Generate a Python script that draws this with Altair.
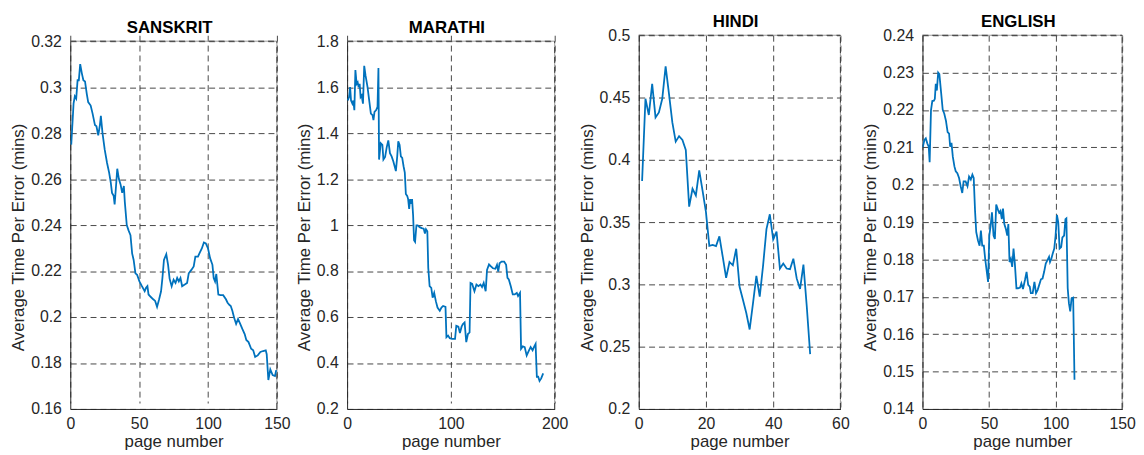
import altair as alt
import pandas as pd

# ---------------- data ----------------
sk_page = [0.7, 2.4, 3.3, 4.3, 5.3, 6.2, 7.2, 8.4, 9.5, 10.7,
           12, 13, 14.8, 16.2, 17.9, 19, 20.3, 21.5, 22.2, 23.4,
           25, 26.7, 28.2, 29.4, 30.3, 31.5, 32.2, 33.4, 34.1, 35.3,
           36.5, 37.7, 38.9, 39.6, 41, 42.3, 43.7, 44.9, 46, 47.3,
           48.5, 50.2, 52, 54, 55, 56, 56.8, 58.5, 60.2, 61.6,
           63, 64.5, 65.9, 66.9, 68, 69.7, 71, 72.1, 73.6, 75,
           76.4, 77.6, 78.8, 80, 81.2, 83.1, 84.8, 86, 87.9, 89.6,
           90.8, 92.7, 94.1, 95.5, 97, 98.4, 100, 101.5, 103.2, 104.1,
           105.1, 106, 107.5, 109, 111, 113, 114.2, 115.6, 116.5, 117.7,
           118.9, 120.4, 121.8, 123.2, 124.9, 126.6, 127.8, 129.4, 131.3, 132.8,
           134.2, 136.1, 138, 140, 141.9, 142.6, 143.8, 145.2, 146.9, 148.6,
           149.5]
sk_time = [0.275, 0.293, 0.296, 0.295, 0.303, 0.303, 0.310, 0.306, 0.303, 0.3025,
           0.297, 0.2935, 0.292, 0.2885, 0.2835, 0.283, 0.279, 0.2835, 0.2875, 0.280,
           0.2728, 0.267, 0.2628, 0.2585, 0.254, 0.2527, 0.249, 0.2585, 0.2645, 0.260,
           0.2577, 0.254, 0.257, 0.250, 0.240, 0.2377, 0.2356, 0.2277, 0.2248, 0.219,
           0.2184, 0.2155, 0.2134, 0.2112, 0.2127, 0.2134, 0.2098, 0.2087, 0.2077, 0.207,
           0.2044, 0.2077, 0.2112, 0.217, 0.2248, 0.2273, 0.2227, 0.2167, 0.2134, 0.2162,
           0.2148, 0.217, 0.2155, 0.217, 0.2134, 0.2141, 0.2148, 0.219, 0.2205, 0.222,
           0.2263, 0.2263, 0.2281, 0.2298, 0.2324, 0.232, 0.2298, 0.2256, 0.2227, 0.217,
           0.2155, 0.2187, 0.2098, 0.2095, 0.2095, 0.2077, 0.2062, 0.2052, 0.2048, 0.2026,
           0.1998, 0.197, 0.1991, 0.1972, 0.1948, 0.1926, 0.19, 0.1891, 0.1862, 0.1855,
           0.1826, 0.1833, 0.1848, 0.1852, 0.1855, 0.1838, 0.1726, 0.1772, 0.1747, 0.1743,
           0.1769]

mr_page = [0.6, 1.9, 2.9, 3.8, 5.1, 6, 7, 8, 9.2, 10.2,
           11.1, 12.1, 13, 14, 15.3, 16.5, 17.8, 19.7, 21.3, 22.9,
           24.5, 25.4, 26.4, 28, 29.3, 30.2, 30.8, 32.4, 34, 35,
           36.6, 38.2, 39.7, 41.3, 42.9, 44.5, 45.8, 47, 48.3, 49.3,
           50.6, 51.8, 53.1, 54.4, 55.6, 56.6, 57.9, 58.8, 59.8, 60.7,
           61.7, 62.6, 63.6, 64.5, 65.5, 66.8, 68, 69.9, 71.9, 73.8,
           75, 76, 77.3, 78.2, 79.5, 81.1, 82.4, 83.9, 85.5, 87.1,
           89.3, 90.9, 92.5, 94.8, 95.7, 97.3, 98.9, 101.1, 104, 105.2,
           107.2, 108.7, 110.3, 111.6, 113.2, 114.8, 116.4, 118, 118.9, 120.5,
           122.7, 124.6, 126.5, 128.5, 130, 131.6, 133.5, 134.8, 136.7, 138.6,
           140.5, 142.8, 144.4, 145.6, 146.9, 148.8, 151.3, 153.2, 154.5, 155.8,
           157.7, 159.6, 161.5, 163.5, 164.7, 166.6, 167.6, 169.2, 171.1, 173,
           174.9, 176.8, 178.7, 180, 181.6, 182.8, 184.1, 185.4, 187, 188.9]
mr_time = [1.542, 1.557, 1.60, 1.542, 1.528, 1.542, 1.50, 1.674, 1.614, 1.621,
           1.60, 1.614, 1.557, 1.564, 1.528, 1.693, 1.65, 1.60, 1.542, 1.485,
           1.478, 1.457, 1.492, 1.50, 1.514, 1.683, 1.285, 1.356, 1.349, 1.285,
           1.296, 1.339, 1.368, 1.313, 1.299, 1.278, 1.256, 1.235, 1.299, 1.364,
           1.349, 1.299, 1.292, 1.256, 1.228, 1.135, 1.127, 1.113, 1.070, 1.113,
           1.092, 1.113, 1.042, 0.934, 0.927, 0.999, 0.999, 0.991, 0.987, 0.984,
           0.963, 0.982, 0.973, 0.813, 0.734, 0.727, 0.684, 0.705, 0.669, 0.641,
           0.627, 0.641, 0.648, 0.644, 0.512, 0.519, 0.508, 0.505, 0.505, 0.562,
           0.558, 0.530, 0.558, 0.569, 0.576, 0.491, 0.526, 0.533, 0.748, 0.744,
           0.712, 0.741, 0.734, 0.741, 0.730, 0.748, 0.712, 0.805, 0.829, 0.820,
           0.812, 0.810, 0.827, 0.798, 0.834, 0.841, 0.841, 0.827, 0.770, 0.763,
           0.734, 0.698, 0.698, 0.705, 0.691, 0.705, 0.462, 0.472, 0.469, 0.433,
           0.452, 0.469, 0.455, 0.469, 0.483, 0.340, 0.340, 0.322, 0.333, 0.355]

hi_page = list(range(1, 52))
hi_time = [0.383, 0.449, 0.436, 0.461, 0.434, 0.438, 0.449, 0.475, 0.453, 0.430,
           0.4146, 0.419, 0.416, 0.408, 0.3624, 0.3767, 0.3714, 0.3915, 0.375, 0.358,
           0.331, 0.3317, 0.3307, 0.3386, 0.322, 0.3053, 0.318, 0.3153, 0.3286, 0.2981,
           0.2876, 0.277, 0.2638, 0.2849, 0.3069, 0.2902, 0.3153, 0.3444, 0.3563, 0.336,
           0.3423, 0.3127, 0.3167, 0.3127, 0.3122, 0.3206, 0.3048, 0.2963, 0.3159, 0.282,
           0.244]

en_page = [0.2, 1.5, 2.5, 3.7, 4.7, 5.4, 6.4, 7.4, 8.6, 9.3,
           10, 10.8, 11.8, 12.7, 14, 15.2, 16.4, 17.6, 18.9, 20,
           20.8, 21.8, 22.8, 24, 25, 26.2, 27.5, 28.7, 29.9, 30.9,
           32.4, 33.8, 35, 36.3, 37.5, 38.5, 39.5, 40.4, 41.7, 42.9,
           43.9, 44.9, 46.1, 47.1, 48, 49.3, 50.2, 51.2, 52.2, 53.4,
           54.4, 55.4, 56.6, 57.6, 58.6, 59.6, 60.5, 61.5, 62.7, 63.7,
           64.5, 65.4, 66.4, 67.4, 68.4, 69.4, 70.6, 71.8, 73.3, 74.3,
           75.5, 77, 78.2, 79.4, 80.6, 81.4, 82.8, 84.1, 85.3, 86.5,
           87.7, 89, 90.2, 91.4, 92.6, 93.9, 95.1, 95.8, 96.8, 97.8,
           99, 100, 101, 102, 103, 104.2, 105.1, 106.4, 107.4, 108.1,
           109.1, 110, 111, 112, 113.2, 114.2]
en_time = [0.210, 0.212, 0.2124, 0.211, 0.2102, 0.206, 0.2199, 0.2224, 0.2225, 0.2230,
           0.227, 0.2252, 0.230, 0.2296, 0.2247, 0.2201, 0.219, 0.2172, 0.2141, 0.2137,
           0.2102, 0.2112, 0.2075, 0.2049, 0.2036, 0.2031, 0.2018, 0.1996, 0.1978, 0.2009,
           0.2009, 0.1996, 0.2022, 0.2014, 0.2027, 0.2018, 0.193, 0.1873, 0.1851, 0.1837,
           0.1877, 0.1837, 0.1837, 0.1802, 0.1776, 0.174, 0.1864, 0.1890, 0.1926, 0.1864,
           0.1855, 0.1947, 0.1934, 0.1925, 0.193, 0.1908, 0.1936, 0.1895, 0.1881, 0.1864,
           0.1895, 0.1793, 0.1802, 0.178, 0.1829, 0.1789, 0.1723, 0.1723, 0.1725, 0.1736,
           0.1721, 0.1745, 0.1767, 0.1732, 0.1727, 0.171, 0.171, 0.174, 0.171, 0.1718,
           0.1732, 0.1747, 0.1749, 0.1767, 0.1789, 0.1798, 0.1807, 0.1793, 0.1802, 0.1815,
           0.1829, 0.1864, 0.1919, 0.1899, 0.1829, 0.1833, 0.1859, 0.1864, 0.1908, 0.191,
           0.1723, 0.1683, 0.1661, 0.1696, 0.1698, 0.1478]

sk_xticks = [0, 50, 100, 150]
sk_yticks = [0.16, 0.18, 0.2, 0.22, 0.24, 0.26, 0.28, 0.3, 0.32]
mr_xticks = [0, 100, 200]
mr_yticks = [0.2, 0.4, 0.6, 0.8, 1.0, 1.2, 1.4, 1.6, 1.8]
hi_xticks = [0, 20, 40, 60]
hi_yticks = [0.2, 0.25, 0.3, 0.35, 0.4, 0.45, 0.5]
en_xticks = [0, 50, 100, 150]
en_yticks = [0.14, 0.15, 0.16, 0.17, 0.18, 0.19, 0.2, 0.21, 0.22, 0.23, 0.24]

FONT = "Liberation Sans"
TXT = "#262626"
LINE = "#0072BD"
H = 378


def panel(name, pages, times, xticks, yticks, yfmt, plot_w, plot_h, group_w):
    df = pd.DataFrame({"page": pages, "time": times})
    xdom = [xticks[0], xticks[-1]]
    ydom = [yticks[0], yticks[-1]]
    top = H - plot_h
    xs = alt.Scale(domain=xdom, range=[0, plot_w], nice=False, zero=False)
    ys = alt.Scale(domain=ydom, range=[H, top], nice=False, zero=False)
    xax = alt.Axis(values=xticks, tickCount=len(xticks) + 2, title="page number", grid=True,
                   ticks=False, tickSize=0, labelPadding=7, titlePadding=2, format="d",
                   labelOverlap=False, labelFlush=False)
    yax = alt.Axis(values=yticks, tickCount=len(yticks) + 2, title="Average Time Per Error (mins)",
                   grid=True, ticks=False, tickSize=0, labelPadding=9, titlePadding=3,
                   format=yfmt, labelOverlap=False, labelFlush=False, titleY=204)
    edges = pd.DataFrame({"x1": [xdom[0], xdom[1]], "x2": [xdom[1], xdom[1]],
                          "y1": [ydom[1], ydom[0]], "y2": [ydom[1], ydom[1]]})
    eb = alt.Chart(edges)
    edge_solid = eb.mark_rule(color="#9a9a9a", strokeWidth=1).encode(
        x=alt.X("x1:Q", scale=xs, axis=xax), x2="x2:Q",
        y=alt.Y("y1:Q", scale=ys, axis=yax), y2="y2:Q")
    edge_dash = eb.mark_rule(color=TXT, strokeWidth=1, strokeDash=[6, 4], opacity=0.85).encode(
        x=alt.X("x1:Q", scale=xs), x2="x2:Q",
        y=alt.Y("y1:Q", scale=ys), y2="y2:Q")
    line = alt.Chart(df).mark_line(color=LINE, strokeWidth=1.8, clip=True).encode(
        x=alt.X("page:Q", scale=xs),
        y=alt.Y("time:Q", scale=ys))
    title = alt.Chart(pd.DataFrame({"t": [name]})).mark_text(
        font=FONT, fontSize=17, fontWeight="bold", color="#000000",
        align="center", baseline="alphabetic").encode(
        text="t:N", x=alt.value(plot_w / 2 - 4), y=alt.value(top - 8))
    return alt.layer(edge_solid, edge_dash, line, title).properties(width=group_w, height=H)


p1 = panel("SANSKRIT", sk_page, sk_time, sk_xticks, sk_yticks, ".2~f", 209, 372, 280)
p2 = panel("MARATHI", mr_page, mr_time, mr_xticks, mr_yticks, ".1~f", 210, 372, 295)
p3 = panel("HINDI", hi_page, hi_time, hi_xticks, hi_yticks, ".2~f", 204, 378, 287)
p4 = panel("ENGLISH", en_page, en_time, en_xticks, en_yticks, ".2~f", 202, 378, 202)

chart = alt.hconcat(p1, p2, p3, p4, spacing=0, bounds="flush").properties(
    padding={"left": 1, "top": 2, "right": 0, "bottom": 0}
).configure_view(stroke="transparent").configure_axis(
    labelFont=FONT, labelFontSize=16, labelColor=TXT,
    titleFont=FONT, titleFontSize=17, titleColor=TXT, titleFontWeight="normal",
    domainColor=TXT, domainWidth=1,
    gridColor=TXT, gridDash=[6, 4], gridWidth=1, gridOpacity=0.85,
)

chart.save("out.html", embed_options={"renderer": "svg", "actions": False})
